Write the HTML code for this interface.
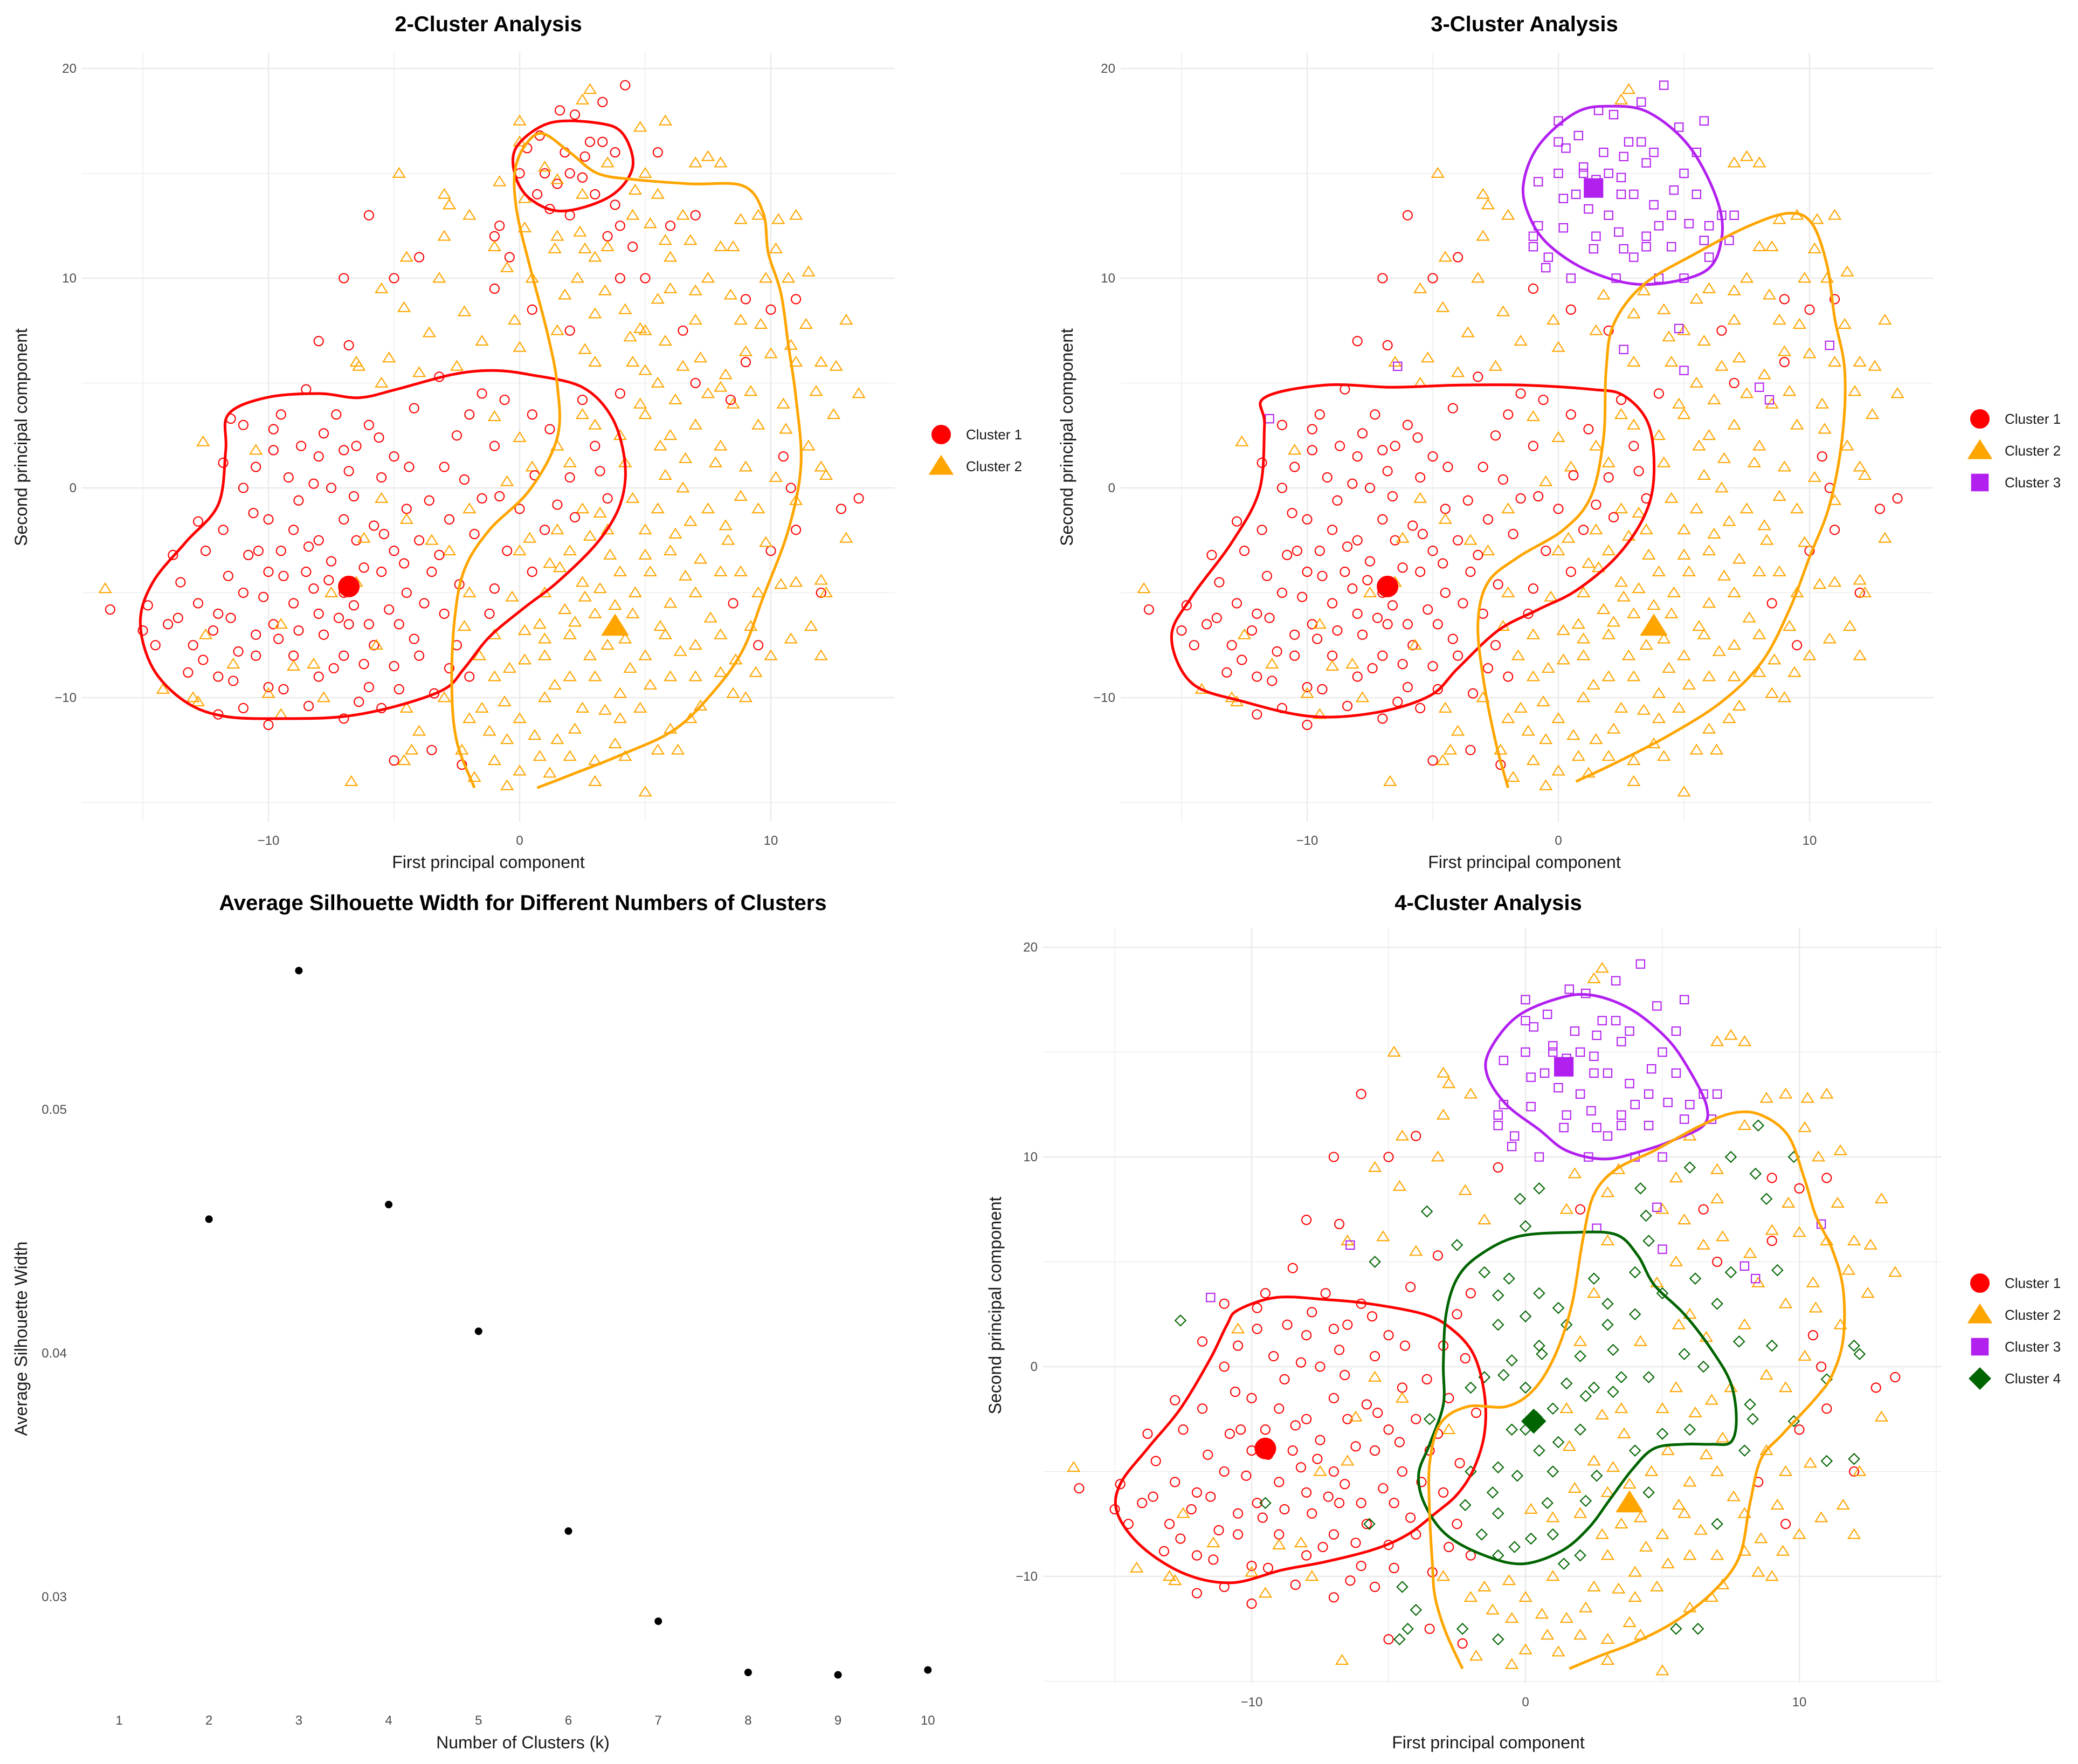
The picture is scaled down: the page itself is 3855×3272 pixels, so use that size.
<!DOCTYPE html>
<html><head><meta charset="utf-8"><title>Cluster Analysis</title>
<style>
html,body{margin:0;padding:0;background:#fff;}
svg{display:block;font-family:"Liberation Sans",sans-serif;}
</style></head>
<body>
<svg id="fig" width="3855" height="3272" viewBox="0 0 3855 3272" xmlns="http://www.w3.org/2000/svg">
<rect width="3855" height="3272" fill="#fff"/>
</svg>
<script>
// ---------- DATA ----------
// PCA points: [PC1, PC2, cluster(k=2), cluster(k=3), cluster(k=4)]
const pcaPoints = [
[-12,-6,1,1,1],[-11.5,-6.2,1,1,1],[-11,-5,1,1,1],[-10.5,-7,1,1,1],[-10,-4,1,1,1],[-9.5,-3,1,1,1],[-9,-5.5,1,1,1],[-8.5,-4,1,1,1],[-8,-6,1,1,1],[-7.5,-3.5,1,1,1],[-7,-5,1,1,1],[-6.5,-2.5,1,1,1],[-6,-6.5,1,1,1],[-5.5,-4,1,1,1],[-5,-3,1,1,1],[-4.5,-5,1,1,1],[-13,-7.5,1,1,1],[-14,-6.5,1,1,1],[-15,-6.8,1,1,1],[-13.5,-4.5,1,1,1],[-12.5,-3,1,1,1],[-11.8,-2,1,1,1],[-11,0,1,1,1],[-10.5,1,1,1,1],[-10,-1.5,1,1,1],[-9.2,0.5,1,1,1],[-8.7,2,1,1,1],[-8,1.5,1,1,1],[-7.5,0,1,1,1],[-7,-1.5,1,1,1],[-6.5,2,1,1,1],[-6,3,1,1,1],[-5.5,0.5,1,1,1],[-5,1.5,1,1,1],[-4.5,-1,1,1,1],[-12,-9,1,1,1],[-11,-10.5,1,1,1],[-10,-9.5,1,1,1],[-9,-8,1,1,1],[-8,-9,1,1,1],[-7,-8,1,1,1],[-6,-9.5,1,1,1],[-5,-8.5,1,1,1],[-5.5,-10.5,1,1,1],[-7,-11,1,1,1],[-10,-11.3,1,1,1],[-12,-10.8,1,1,1],[-11.5,3.3,1,3,3],[-11,3,1,1,1],[-9.5,3.5,1,1,1],[-8.5,4.7,1,1,1],[-10.5,-8,1,1,1],[-9,-2,1,1,1],[-8,-2.5,1,1,1],[-7.8,-7,1,1,1],[-6.8,-6.5,1,1,1],[-5.8,-7.5,1,1,1],[-4.8,-6.5,1,1,1],[-9.8,-6.5,1,1,1],[-12.8,-5.5,1,1,1],[-13.2,-8.8,1,1,1],[-14.5,-7.5,1,1,1],[-16.3,-5.8,1,1,1],[-8.2,-4.8,1,1,1],[-6.2,-3.8,1,1,1],[-10.8,-3.2,1,1,1],[-7.3,3.5,1,1,1],[-4.2,3.8,1,1,1],
[-4,-2.5,1,1,1],[-3.5,-4,1,1,1],[-3,-6,1,1,1],[-2.5,-7.5,1,1,1],[-4,-8,1,1,1],[-3.8,-5.5,1,1,1],[-3,1,1,1,1],[-2,3.5,1,1,1],[-1,2,1,1,4],[-1.5,-0.5,1,1,4],[0,-1,1,1,4],[1,-2,1,1,4],[2,0.5,1,1,4],[3,2,1,1,4],[4,4.5,1,1,4],[3.5,-0.5,1,1,4],[-0.5,-3,1,1,4],[0.5,-4,1,1,4],[-1.2,-6,1,1,4],[-2,-9,1,1,1],[-3.5,-12.5,1,1,1],[-5,-13,1,1,1],[-2.3,-13.2,1,1,1],[-2.5,2.5,1,1,1],[-1.5,4.5,1,1,4],[0.5,3.5,1,1,4],[2.5,4.2,1,1,4],[1.5,-0.8,1,1,4],[-2.8,-1.5,1,1,1],
[-6,13,1,1,1],[-7,10,1,1,1],[-8,7,1,1,1],[-4,11,1,1,1],[-5,10,1,1,1],[-1,12,1,3,3],[-1,9.5,1,1,1],[0.5,8.5,1,1,4],[2,7.5,1,1,1],[5,10,1,3,3],[6,12.5,1,3,3],[3.5,12,1,3,3],[4.5,11.5,1,3,3],[4,10,1,3,3],[7,13,1,3,3],[-6.8,6.8,1,1,1],[-3.2,5.3,1,1,1],
[6.5,7.5,1,1,1],[7,5,1,1,1],[9,6,1,1,1],[10,-3,1,1,1],[9.5,-7.5,1,1,1],[8.5,-5.5,1,1,1],[10.8,0,1,1,1],[11,-2,1,1,1],[12,-5,1,1,1],[13.5,-0.5,1,1,1],[12.8,-1,1,1,1],[10.5,1.5,1,1,1],[9,9,1,1,1],[11,9,1,1,1],[10,8.5,1,1,1],
[1,15,1,3,3],[1.5,14.5,1,3,3],[2,15,1,3,3],[2.5,14.8,1,3,3],[1.8,16,1,3,3],[2.8,16.5,1,3,3],[3.3,16.5,1,3,3],[2.2,17.8,1,3,3],[1.6,18,1,3,3],[3.3,18.4,1,3,3],[4.2,19.2,1,3,3],[0.7,14,1,3,3],[1.2,13.3,1,3,3],[3,14,1,3,3],[3.8,13.5,1,3,3],[2,13,1,3,3],[4,12.5,1,3,3],[-0.8,12.5,1,3,3],[0,15,1,3,3],[0.3,16.2,1,3,3],[5.5,16,1,3,3],[-0.4,11,1,3,3],
[2.5,18.5,2,2,2],[2.8,19,2,2,2],[0,17.5,2,3,3],[0,16.5,2,3,3],[5.8,17.5,2,3,3],[1,15.3,2,3,3],[1.5,14.7,2,3,3],[2.5,14,2,3,3],[3.5,15.5,2,3,3],[5,15,2,3,3],[7,15.5,2,2,2],[8,15.5,2,2,2],[7.5,15.8,2,2,2],[-3,14,2,2,2],[-4.8,15,2,2,2],[-2.8,13.5,2,2,2],[-2,13,2,2,2],[0.2,13.8,2,3,3],[1.5,12,2,3,3],[2.3,10,2,3,3],[3.5,11.5,2,3,3],[4.5,13,2,3,3],[5.5,14,2,3,3],[6.5,13,2,3,3],[8.5,11.5,2,2,4],[9.5,13,2,2,2],[10.3,12.8,2,2,2],[11,13,2,2,2],[6,11,2,3,2],[7.5,10,2,2,4],[8,11.5,2,2,2],[5.5,9,2,2,2],[4.2,8.5,2,2,4],[3,8.3,2,2,2],[1.8,9.2,2,2,2],[0.5,10,2,3,3],[-0.5,10.5,2,3,3],[-1,11.5,2,3,3],[-3.2,10,2,2,2],[-4.5,11,2,2,2],[-5.5,9.5,2,2,2],[-6.5,6,2,2,2],[-5.5,5,2,2,4],[-4,5.5,2,2,2],[-2.5,5.8,2,2,4],[-1.5,7,2,2,2],[0,6.7,2,2,4],[1.5,7.5,2,2,2],[3,6,2,2,2],[4.5,6,2,2,4],[5.5,5,2,2,2],[6.5,5.8,2,2,2],[7.5,4.5,2,2,4],[8.5,4,2,2,2],[9.5,3,2,2,2],[10.5,4,2,2,2],[11,6,2,2,2],[12,6,2,2,2],[13,8,2,2,2],[13.5,4.5,2,2,2],[12.5,3.5,2,2,2],[11.5,2,2,2,2],[10.2,0.5,2,2,2],[9,1,2,2,4],[8,2,2,2,2],[7,3,2,2,4],[6,2.5,2,2,2],[5,3.5,2,2,4],[4,2.5,2,2,4],[2.5,3.5,2,2,2],[1.5,2,2,2,4],[0.5,1,2,2,4],[-0.5,0.3,2,2,4],[-2,-1,2,2,4],[-3.5,-2.5,2,2,4],[-4.5,-1.5,2,2,2],[-5.5,-0.5,2,2,2],[-6.5,-4.5,2,2,2],[-7.5,-5,2,2,2],[-9,-8.5,2,2,2],[-10,-9.8,2,2,2],[-13,-10,2,2,2],[-16.5,-4.8,2,2,2],[-12.5,-7,2,2,2],
[0,-3,2,2,4],[1,-5,2,2,4],[2,-3,2,2,4],[3,-6,2,2,2],[4,-4,2,2,4],[5,-2,2,2,2],[6,-3,2,2,4],[7,-5,2,2,2],[8,-7,2,2,2],[9,-10,2,2,2],[7,-9,2,2,2],[5,-8,2,2,2],[3,-9,2,2,2],[1,-8,2,2,4],[-1,-9,2,2,4],[-2,-11,2,2,2],[0,-11,2,2,2],[1.5,-12,2,2,2],[3,-13,2,2,2],[0,-13.5,2,2,2],[-0.5,-14.2,2,2,2],[-1,-13,2,2,4],[2.5,-10.5,2,2,2],[4,-11,2,2,2],[5.5,-12.5,2,2,4],[6,-11.5,2,2,2],[8.5,-9.8,2,2,2],[10,-8,2,2,2],[12,-8,2,2,2],[12.2,-5,2,2,2],[11,-4.5,2,2,4],[9.5,-5,2,2,2],[8.3,-2.5,2,2,4],[7.5,-1,2,2,2],[6.5,0,2,2,4],[5.5,-1,2,2,2],[4.5,-0.5,2,2,4],[3.5,-2,2,2,2],[2.5,-1,2,2,4],[1.5,-2,2,2,2],[0.8,-6.5,2,2,4],[2,-7,2,2,2],[3.5,-7.5,2,2,2],[4.5,-6,2,2,4],[6,-5.5,2,2,2],[7,-7.5,2,2,4],[6,-9,2,2,2],[4,-9.8,2,2,2],[2,-9,2,2,4],[-1,-7,2,2,4],[-2,-5,2,2,4],[-2.8,-3,2,2,2],[1,-10,2,2,2],[-0.5,-12,2,2,2],[3,-14,2,2,2],[5,-14.5,2,2,2],[-2.3,-12.5,2,2,4],[-3,-10,2,2,2],[-4.5,-10.5,2,2,4],[-6.7,-14,2,2,2],[-4.3,-12.5,2,2,4],[-5.7,-7.5,2,2,4],[-7.8,-10,2,2,2],[-9.5,-10.8,2,2,2],[-12.8,-10.2,2,2,2],[-10.5,1.8,2,2,2],[-9.5,-6.5,2,2,4],[6.3,-12.5,2,2,4],[2.5,-4.5,2,2,2],[4.8,4,2,2,2],[8.8,8,2,2,4],[10.7,10,2,2,2],[11.5,10.3,2,2,2],[12,1,2,2,4],[9.5,-1,2,2,2],[8,-4,2,2,4],[5,7.5,2,2,2],[6,9.5,2,2,4],[9,6.5,2,2,2],[7,8,2,2,2],
[1.2,-3.6,2,2,4],[2.8,-2.3,2,2,2],[-0.3,-5.2,2,2,4],[3.2,-4.8,2,2,2],[5.2,-4,2,2,2],[1.8,-5.8,2,2,2],[0.2,-8.2,2,2,4],[4.2,-7.2,2,2,2],[-1.5,-10.5,2,2,2],[2.2,-11.5,2,2,2],[0.8,-12.8,2,2,2],[3.8,-12.2,2,2,2],[5.8,-7,2,2,2],[4.8,-10.5,2,2,2],
[-11.2,-7.8,1,1,1],[-10.2,-5.2,1,1,1],[-9.6,-7.2,1,1,1],[-8.8,-6.8,1,1,1],[-8.4,-2.8,1,1,1],[-7.6,-4.4,1,1,1],[-7.2,-6.2,1,1,1],[-6.6,-5.6,1,1,1],[-6.2,-8.4,1,1,1],[-5.2,-5.8,1,1,1],[-4.6,-3.6,1,1,1],[-5.8,-1.8,1,1,1],[-6.8,0.8,1,1,1],[-7.8,2.6,1,1,1],[-8.8,-0.6,1,1,1],[-9.8,1.8,1,1,1],[-10.6,-1.2,1,1,1],[-11.6,-4.2,1,1,1],[-12.2,-6.8,1,1,1],[-13.6,-6.2,1,1,1],[-12.6,-8.2,1,1,1],[-11.4,-9.2,1,1,1],[-9.4,-9.6,1,1,1],[-8.4,-10.4,1,1,1],[-6.4,-10.2,1,1,1],[-4.8,-9.6,1,1,1],[-4.2,-7.2,1,1,1],[-5.4,-2.2,1,1,1],[-6.6,-0.4,1,1,1],[-8.2,0.2,1,1,1],[-9.4,-4.2,1,1,1],[-10.4,-3,1,1,1],[-7.4,-8.6,1,1,1],[-11.8,1.2,1,1,1],[-12.8,-1.6,1,1,1],[-13.8,-3.2,1,1,1],[-14.8,-5.6,1,1,1],[-9.8,2.8,1,1,1],[-7,1.8,1,1,1],[-5.6,2.4,1,1,1],[-4.4,1,1,1,1],[-3.6,-0.6,1,1,1],[-3.2,-3.2,1,1,1],[-2.4,-4.6,1,1,1],[-1.8,-2.2,1,1,1],[-0.8,-0.4,1,1,4],[0.6,0.6,1,1,4],[1.2,2.8,1,1,4],[2.2,-1.4,1,1,4],[3.2,0.8,1,1,4],[-0.6,4.2,1,1,4],[-2.2,0.4,1,1,1],[-1,-4.8,1,1,4],[-2.8,-8.6,1,1,1],[-3.4,-9.8,1,1,1],
[0.4,-2.4,2,2,4],[1.6,-3.8,2,2,2],[2.6,-5.2,2,2,4],[3.6,-3.2,2,2,2],[4.6,-5,2,2,2],[5.6,-6.6,2,2,2],[6.6,-4.2,2,2,2],[7.6,-6.2,2,2,2],[8.6,-8.2,2,2,2],[7.2,-10.4,2,2,2],[5.2,-9.4,2,2,2],[3.4,-10.6,2,2,2],[1.4,-9.4,2,2,4],[-0.6,-10.2,2,2,2],[-1.6,-8,2,2,4],[-2.2,-6.6,2,2,4],[0.2,-6.8,2,2,2],[2.8,-8,2,2,2],[4.4,-8.6,2,2,2],[6.4,-7.8,2,2,2],[3.8,-5.6,2,2,2],[2.2,-6.4,2,2,4],[1,-7.2,2,2,2],[-0.4,-8.6,2,2,4],[0.6,-11.8,2,2,2],[2,-12.8,2,2,2],[-1.2,-11.6,2,2,2],[1.2,-13.6,2,2,2],[-1.8,-13.8,2,2,2],[4.2,-12.8,2,2,2],[6.8,-11,2,2,2],[8,-8.8,2,2,2],[9.2,-6.6,2,2,2],[10.4,-4.6,2,2,2],[11.6,-6.6,2,2,2],[9.8,-2.6,2,2,4],[8.8,-0.4,2,2,2],[7.8,1.2,2,2,4],[6.8,-1.6,2,2,2],[5.8,0.6,2,2,4],[4.2,1.2,2,2,2],[3,3,2,2,4],[2,1.2,2,2,2],[0,2.4,2,2,4],[-1,3.4,2,2,4],[5,-3.2,2,2,4],[6.2,-2.2,2,2,2],[7.2,-3.4,2,2,2],[8.8,-4,2,2,2],[3.2,-1.2,2,2,4],
[6.2,4.2,2,2,4],[7.2,6.2,2,2,2],[8.2,5.4,2,2,2],[9.2,4.6,2,2,4],[10,6.4,2,2,2],[10.6,2.8,2,2,2],[11.8,4.6,2,2,2],[12.6,5.8,2,2,2],[12.2,0.6,2,2,4],[13,-2.4,2,2,2],[11,-0.6,2,2,4],[9.6,7.8,2,2,2],[8.4,9.2,2,2,4],[7,9.4,2,2,2],[5.8,7,2,2,2],[4.4,7.2,2,2,4],[3.4,9.4,2,2,2],[2.6,11.4,2,3,3],[6.8,11.8,2,3,3],[8.8,12.8,2,2,2],[10.2,11.4,2,2,2],[9.8,10,2,2,4],[11.4,7.8,2,2,2],[5.6,2,2,2,2],[6.6,1.4,2,2,2],[8.2,-1.8,2,2,4],[9.4,-8.8,2,2,2],[10.8,-7.2,2,2,2],[-0.2,8,2,2,4],[-2.2,8.4,2,2,2],[-3.6,7.4,2,2,4],[-4.6,8.6,2,2,2],[-5.2,6.2,2,2,2],[-3,12,2,2,2],[-6.2,-2.4,2,2,2],[-8.2,-8.4,2,2,2],[-11.4,-8.4,2,2,2],[-14.2,-9.6,2,2,2],
[0.8,16.8,1,3,3],[2.6,15.8,1,3,3],[3.8,16,1,3,3],[4.6,14.2,2,3,3],[5.2,12.6,2,3,3],[0.2,12.4,2,3,3],[1.4,11.4,2,3,3],[3,11,2,3,3],[5.8,11.8,2,3,3],[-0.8,14.6,2,3,3],[2.4,12.2,2,3,3],[4.8,17.2,2,3,3],
[5,5.6,2,3,3],[8,4.8,2,3,3],[8.4,4.2,1,3,3],[10.8,6.8,2,3,3],[2.6,6.6,2,3,3],[-6.4,5.8,2,3,3],[4.8,7.6,2,3,3],
[-12.6,2.2,2,2,4],[-4.6,-13,2,2,4],[-4,-11.6,2,2,4],[12,-4.4,2,2,4]
];
// Cluster centroids per panel: [PC1, PC2, cluster]
const centers2 = [[-6.8,-4.7,1],[3.8,-6.6,2]];
const centers3 = [[-6.8,-4.7,1],[3.8,-6.6,2],[1.4,14.3,3]];
const centers4 = [[-9.5,-3.9,1],[3.8,-6.5,2],[1.4,14.3,3],[0.3,-2.6,4]];
// Density contours (data coords)
const hull2Red = [[-11.6,3.5],[-10.1,4.3],[-8.0,4.5],[-6.4,4.3],[-4.9,4.7],[-2.7,5.4],[-1.1,5.6],[0.4,5.4],[2.5,4.8],[3.7,3.3],[4.2,1.1],[4.0,-0.8],[3.1,-2.6],[1.5,-4.5],[0.2,-5.7],[-1.2,-7.1],[-2.2,-8.6],[-3.0,-9.6],[-4.9,-10.4],[-7.0,-10.9],[-9.3,-11.0],[-11.7,-10.9],[-13.3,-10.2],[-14.6,-8.6],[-15.1,-6.4],[-14.6,-4.5],[-13.3,-2.6],[-12.0,-0.8],[-11.7,1.8]];
const hull2RedSmall = [[1.2,17.4],[-0.1,16.3],[-0.2,15.0],[0.4,13.8],[1.7,13.2],[3.6,13.9],[4.5,15.3],[4.1,16.9],[3.1,17.4]];
const hull2Orange = [[-1.8,-14.3],[-2.5,-12.1],[-2.7,-9.6],[-2.6,-6.4],[-2.2,-3.9],[-1.2,-2.0],[0.4,-0.1],[1.5,2.4],[1.5,4.9],[1.1,7.4],[0.4,10.6],[-0.1,13.1],[-0.2,15.0],[0.2,16.3],[0.9,16.9],[2.0,16.0],[3.1,15.0],[4.6,14.7],[6.8,14.5],[8.9,14.4],[9.7,13.1],[9.9,11.2],[10.4,9.3],[10.7,6.8],[11.0,4.3],[11.2,1.1],[10.7,-2.0],[9.7,-5.2],[8.9,-7.7],[7.8,-9.6],[6.2,-11.5],[4.1,-12.7],[2.0,-13.7],[0.7,-14.3]];
const hull3Red = [[-11.7,4.3],[-9.3,4.9],[-6.6,4.8],[-4.0,4.9],[-1.4,4.9],[1.3,4.7],[2.6,4.4],[3.6,3.0],[3.8,0.5],[3.4,-1.4],[2.3,-3.3],[0.7,-4.9],[-0.8,-5.8],[-2.4,-6.8],[-4.0,-8.6],[-5.1,-9.9],[-7.2,-10.7],[-9.8,-10.9],[-12.5,-10.2],[-14.6,-9.3],[-15.4,-7.1],[-14.6,-5.2],[-13.0,-2.6],[-11.9,-0.1],[-11.7,3.0]];
const hull3Purple = [[0.7,17.9],[2.1,18.2],[3.6,17.9],[5.2,16.3],[6.3,13.8],[6.5,11.9],[5.8,10.3],[3.4,9.7],[1.3,10.3],[-0.3,11.5],[-1.1,12.8],[-1.4,14.4],[-0.8,16.3]];
const hull3Orange = [[-2.0,-14.3],[-2.5,-12.1],[-3.0,-9.0],[-3.2,-6.4],[-2.8,-4.5],[-1.6,-3.3],[0.2,-2.0],[1.3,-0.4],[1.8,2.4],[1.9,5.6],[2.2,7.8],[3.4,9.7],[5.5,11.2],[7.6,12.5],[9.2,13.1],[10.1,12.6],[10.7,10.6],[11.0,8.1],[11.4,5.6],[11.3,2.4],[10.8,-0.8],[10.0,-3.3],[9.2,-5.8],[8.1,-8.3],[6.5,-10.2],[4.4,-11.8],[2.3,-13.1],[0.7,-14.0]];
const hull4Red = [[-10.5,2.7],[-9.1,3.3],[-7.3,3.2],[-5.7,3.0],[-3.7,2.5],[-2.7,1.8],[-1.9,0.6],[-1.5,-1.3],[-1.5,-3.2],[-1.9,-4.9],[-2.5,-6.1],[-3.3,-7.0],[-4.3,-8.0],[-5.5,-8.7],[-7.3,-9.3],[-8.9,-9.7],[-10.7,-10.3],[-12.4,-9.9],[-14.0,-8.6],[-14.9,-7.0],[-14.8,-5.6],[-13.8,-3.9],[-12.6,-2.0],[-11.5,0.4],[-10.9,2.0]];
const hull4Green = [[-1.7,5.3],[-0.3,6.2],[1.7,6.4],[3.3,6.3],[4.1,5.3],[4.7,3.9],[5.8,2.5],[6.8,0.8],[7.5,-0.8],[7.7,-2.5],[7.5,-3.6],[6.8,-3.7],[5.8,-3.7],[4.7,-3.9],[3.9,-4.9],[3.1,-6.3],[2.3,-7.7],[1.3,-8.8],[-0.1,-9.4],[-1.5,-9.0],[-2.9,-8.0],[-3.7,-6.5],[-3.9,-5.1],[-3.5,-3.7],[-3.0,-1.8],[-3.0,0.1],[-2.9,2.5],[-2.5,4.2]];
const hull4Purple = [[-1.3,15.1],[-0.3,16.7],[1.3,17.6],[2.5,17.7],[3.9,17.0],[5.2,15.6],[6.0,14.1],[6.6,12.5],[6.5,11.5],[5.4,10.8],[4.3,10.3],[2.9,9.9],[1.5,10.3],[0.5,11.3],[-0.7,12.5],[-1.4,13.9]];
const hull4Orange = [[-2.3,-14.4],[-2.9,-12.7],[-3.3,-11.0],[-3.4,-9.4],[-3.5,-7.0],[-3.5,-4.6],[-3.1,-2.7],[-2.1,-1.9],[-0.7,-1.9],[0.3,-1.1],[1.1,0.6],[1.7,3.0],[2.1,6.1],[2.5,8.2],[3.3,9.4],[4.7,10.3],[6.4,11.5],[7.6,12.1],[8.6,12.0],[9.6,11.0],[10.2,8.9],[10.6,7.2],[11.2,5.6],[11.6,3.7],[11.6,1.3],[11.2,-0.4],[10.6,-1.5],[9.4,-3.2],[8.6,-4.4],[8.2,-6.5],[7.8,-9.1],[6.8,-10.8],[5.4,-12.2],[3.9,-13.2],[2.7,-13.8],[1.6,-14.4]];
// Silhouette
const silK = [2,3,4,5,6,7,8,9,10];
const silWidth = [0.0455,0.0557,0.0461,0.0409,0.0327,0.0290,0.0269,0.0268,0.0270];
const silXTicks = [1,2,3,4,5,6,7,8,9,10];
const silYTicks = [0.03,0.04,0.05];
const pcXTicks = [-10,0,10];
const pcYTicks = [-10,0,10,20];

// ---------- HELPERS ----------
const NS = "http://www.w3.org/2000/svg";
const svg = document.getElementById("fig");
function mk(tag, attrs, parent){
  const e = document.createElementNS(NS, tag);
  for (const k in attrs) e.setAttribute(k, attrs[k]);
  (parent||svg).appendChild(e);
  return e;
}
const COLORS = {1:"#ff0000",2:"#ffa500",3:"#b220f0",4:"#006400"};
const fmt = v => (v<0 ? "\u2212"+Math.abs(v) : String(v));

function shape(g, cluster, cx, cy, r, filled){
  const col = COLORS[cluster];
  const st = filled ? {fill:col, stroke:col, "stroke-width":2} : {fill:"none", stroke:col, "stroke-width":2.1};
  let e;
  if (cluster===1){
    e = mk("circle", Object.assign({cx:cx, cy:cy, r:r}, st), g);
  } else if (cluster===2){
    const h = r*1.15;
    e = mk("polygon", Object.assign({points:`${cx},${cy-h} ${cx-h*1.1},${cy+h*0.75} ${cx+h*1.1},${cy+h*0.75}`}, st), g);
  } else if (cluster===3){
    e = mk("rect", Object.assign({x:cx-r*0.9, y:cy-r*0.9, width:r*1.8, height:r*1.8}, st), g);
  } else {
    const h = r*1.15;
    e = mk("polygon", Object.assign({points:`${cx},${cy-h} ${cx+h},${cy} ${cx},${cy+h} ${cx-h},${cy}`}, st), g);
  }
  return e;
}

function smoothPath(pts, closed){
  const n = pts.length;
  const P = i => closed ? pts[(i+n)%n] : pts[Math.max(0,Math.min(n-1,i))];
  let d = `M${pts[0][0]},${pts[0][1]}`;
  const last = closed ? n : n-1;
  for (let i=0;i<last;i++){
    const p0=P(i-1), p1=P(i), p2=P(i+1), p3=P(i+2);
    const c1=[p1[0]+(p2[0]-p0[0])/6, p1[1]+(p2[1]-p0[1])/6];
    const c2=[p2[0]-(p3[0]-p1[0])/6, p2[1]-(p3[1]-p1[1])/6];
    d += ` C${c1[0].toFixed(1)},${c1[1].toFixed(1)} ${c2[0].toFixed(1)},${c2[1].toFixed(1)} ${p2[0].toFixed(1)},${p2[1].toFixed(1)}`;
  }
  if (closed) d += " Z";
  return d;
}

function text(g, x, y, str, opts){
  const t = mk("text", Object.assign({x:x, y:y, fill:"#4d4d4d", "font-size":24}, opts||{}), g);
  t.textContent = str;
  return t;
}

// ---------- SCATTER PANELS ----------
function scatterPanel(cfg){
  const g = mk("g", {});
  
  
  const X = v => cfg.x0 + cfg.sx*v;
  const Y = v => cfg.y0 - cfg.sy*v;
  const grid = mk("g", {}, g);
  
  
  for (let v=-15; v<=15; v+=5){
    const px = X(v);
    if (px < cfg.left || px > cfg.right) continue;
    const major = v%10===0;
    mk("line", {x1:px, x2:px, y1:cfg.top, y2:cfg.bottom, stroke:"#ebebeb", "stroke-width": major?2.6:1.3}, grid);
  }
  for (let v=-15; v<=20; v+=5){
    const py = Y(v);
    if (py < cfg.top || py > cfg.bottom) continue;
    const major = v%10===0;
    mk("line", {x1:cfg.left, x2:cfg.right, y1:py, y2:py, stroke:"#ebebeb", "stroke-width": major?2.6:1.3}, grid);
  }
  pcXTicks.forEach(v=>{
    const t = text(g, X(v), cfg.bottom+43, fmt(v), {"text-anchor":"middle"});
    
    
  });
  pcYTicks.forEach(v=>{
    const t = text(g, cfg.left-10, Y(v)+8, fmt(v), {"text-anchor":"end"});
    
    
  });
  const pg = mk("g", {}, g);
  
  
  pcaPoints.forEach(p=>{
    const m = shape(pg, p[cfg.labelIdx], X(p[0]), Y(p[1]), 8.5, false);
    
    
  });
  cfg.hulls.forEach(h=>{
    const pts = h.pts.map(q=>[X(q[0]), Y(q[1])]);
    const path = mk("path", {d:smoothPath(pts, h.closed), fill:"none", stroke:COLORS[h.c], "stroke-width":5, "stroke-linejoin":"round"}, g);
    
    
  });
  cfg.centers.forEach(c=>{
    const m = shape(g, c[2], X(c[0]), Y(c[1]), 19, true);
    
    
  });
  const ti = text(g, cfg.titleX, cfg.titleY, cfg.title, {"text-anchor":"middle","font-size":40,"font-weight":"bold",fill:"#000"});
  
  
  const xt = text(g, cfg.titleX, cfg.xTitleY, "First principal component", {"text-anchor":"middle","font-size":32,fill:"#1a1a1a"});
  
  
  const yc = (cfg.top+cfg.bottom)/2;
  const yt = text(g, 0, 0, "Second principal component", {"text-anchor":"middle","font-size":32,fill:"#1a1a1a",transform:`translate(${cfg.yTitleX},${yc}) rotate(-90)`});
  
  
  const lg = mk("g", {}, g);
  
  
  cfg.legend.forEach((c,i)=>{
    const ly = cfg.legY + i*59;
    const e = mk("g", {}, lg);
    
    
    shape(e, c, cfg.legX, ly, 17, true);
    text(e, cfg.legX+46, ly+9, "Cluster "+c, {"font-size":26,fill:"#1a1a1a"});
  });
}

scatterPanel({name:"two-cluster-panel", x0:964, sx:46.6, y0:905, sy:38.9, left:152, right:1660, top:98, bottom:1524,
  labelIdx:2, title:"2-Cluster Analysis", titleX:906, titleY:58, xTitleY:1610, yTitleX:50,
  centers:centers2, legend:[1,2], legX:1746, legY:806,
  hulls:[{pts:hull2Red,c:1,closed:true},{pts:hull2RedSmall,c:1,closed:true},{pts:hull2Orange,c:2,closed:false}]});

scatterPanel({name:"three-cluster-panel", x0:2891, sx:46.6, y0:905, sy:38.9, left:2079, right:3587, top:98, bottom:1524,
  labelIdx:3, title:"3-Cluster Analysis", titleX:2828, titleY:58, xTitleY:1610, yTitleX:1990,
  centers:centers3, legend:[1,2,3], legX:3673, legY:777,
  hulls:[{pts:hull3Red,c:1,closed:true},{pts:hull3Purple,c:3,closed:true},{pts:hull3Orange,c:2,closed:false}]});

scatterPanel({name:"four-cluster-panel", x0:2830, sx:50.8, y0:2535, sy:38.9, left:1935, right:3602, top:1721, bottom:3122,
  labelIdx:4, title:"4-Cluster Analysis", titleX:2761, titleY:1688, xTitleY:3243, yTitleX:1857,
  centers:centers4, legend:[1,2,3,4], legX:3673, legY:2380,
  hulls:[{pts:hull4Red,c:1,closed:true},{pts:hull4Purple,c:3,closed:true},{pts:hull4Green,c:4,closed:true},{pts:hull4Orange,c:2,closed:false}]});

// ---------- SILHOUETTE PANEL ----------
(function(){
  const g = mk("g", {});
  
  
  const X = k => 221 + 166.7*(k-1);
  const Y = v => 2058 - 45200*(v-0.05);
  silXTicks.forEach(k=>{
    const t = text(g, X(k), 3199, String(k), {"text-anchor":"middle"});
    
    
  });
  silYTicks.forEach(v=>{
    const t = text(g, 124, Y(v)+8, v.toFixed(2), {"text-anchor":"end"});
    
    
  });
  silK.forEach((k,i)=>{
    const c = mk("circle", {cx:X(k), cy:Y(silWidth[i]), r:7, fill:"#000"}, g);
    
    
  });
  const ti = text(g, 970, 1688, "Average Silhouette Width for Different Numbers of Clusters", {"text-anchor":"middle","font-size":40,"font-weight":"bold",fill:"#000"});
  
  
  const xt = text(g, 970, 3243, "Number of Clusters (k)", {"text-anchor":"middle","font-size":32,fill:"#1a1a1a"});
  
  
  const yt = text(g, 0, 0, "Average Silhouette Width", {"text-anchor":"middle","font-size":32,fill:"#1a1a1a",transform:"translate(50,2483) rotate(-90)"});
  
  
})();
</script>
</body></html>
